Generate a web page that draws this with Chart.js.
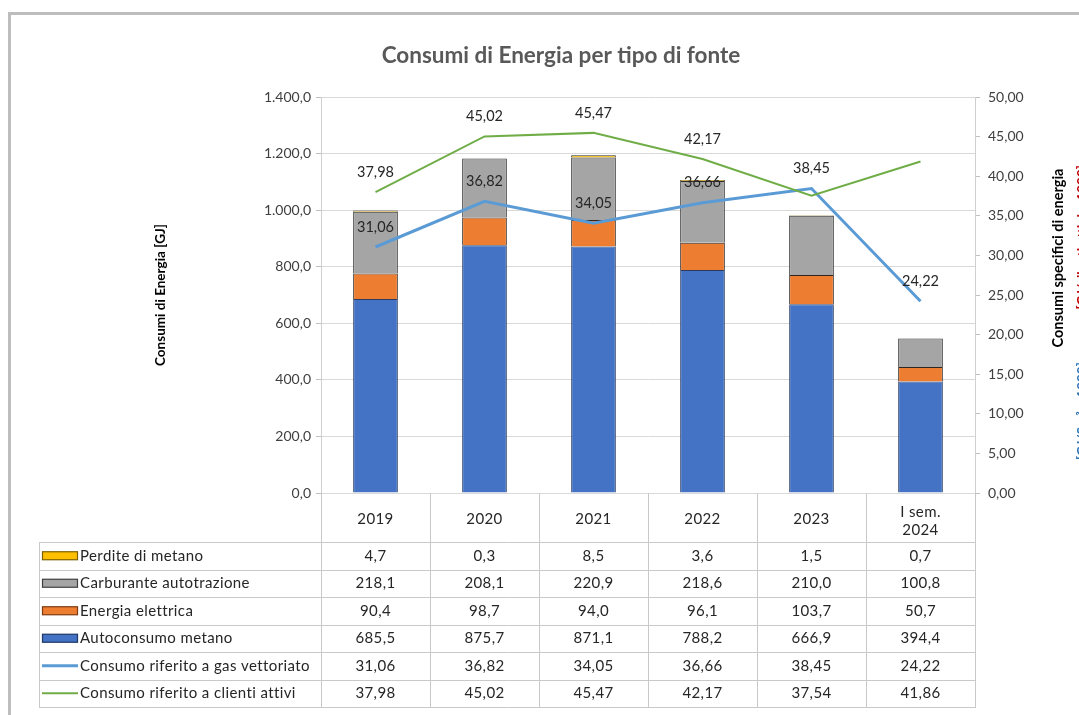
<!DOCTYPE html>
<html><head><meta charset="utf-8">
<script src="https://cdn.jsdelivr.net/npm/chart.js@4/dist/chart.umd.min.js"></script>
<style>html,body{margin:0;padding:0;background:#fff;}#wrap{position:relative;width:1079px;height:715px;}</style>
</head><body><div id="wrap"><canvas id="c" width="1079" height="715"></canvas></div>
<script>
// ---- data ----
const categories = ['2019', '2020', '2021', '2022', '2023', ['I sem.', '2024']];
const perditeMetano = [4.7, 0.3, 8.5, 3.6, 1.5, 0.7];
const carburanteAutotrazione = [218.1, 208.1, 220.9, 218.6, 210.0, 100.8];
const energiaElettrica = [90.4, 98.7, 94.0, 96.1, 103.7, 50.7];
const autoconsumoMetano = [685.5, 875.7, 871.1, 788.2, 666.9, 394.4];
const consumoGasVettoriato = [31.06, 36.82, 34.05, 36.66, 38.45, 24.22];
const consumoClientiAttivi = [37.98, 45.02, 45.47, 42.17, 37.54, 41.86];
const leftAxisRange = [0, 1400, 200];
const rightAxisRange = [0, 50, 5];
const titleText = 'Consumi di Energia per tipo di fonte';
const leftAxisTitle = 'Consumi di Energia [GJ]';
const rightAxisTitle = 'Consumi specifici di energia';

const FONT = 'Lato, "Open Sans", sans-serif';

function fmt(v, d) {
  const s = Number(v).toFixed(d);
  let [i, f] = s.split('.');
  i = i.replace(/\B(?=(\d{3})+(?!\d))/g, '.');
  return f ? i + ',' + f : i;
}

// table rows (legend order, top to bottom)
const tableRows = [
  { label: 'Perdite di metano', values: perditeMetano, dec: 1, kind: 'box', color: '#FFC000', edge: '#7F6000' },
  { label: 'Carburante autotrazione', values: carburanteAutotrazione, dec: 1, kind: 'box', color: '#A5A5A5', edge: '#404040' },
  { label: 'Energia elettrica', values: energiaElettrica, dec: 1, kind: 'box', color: '#ED7D31', edge: '#7F3A10' },
  { label: 'Autoconsumo metano', values: autoconsumoMetano, dec: 1, kind: 'box', color: '#4472C4', edge: '#1F3864' },
  { label: 'Consumo riferito a gas vettoriato', values: consumoGasVettoriato, dec: 2, kind: 'line', color: '#5B9BD5', width: 3 },
  { label: 'Consumo riferito a clienti attivi', values: consumoClientiAttivi, dec: 2, kind: 'line', color: '#70AD47', width: 2 }
];

const decorPlugin = {
  id: 'decor',
  beforeDraw(chart) {
    const ctx = chart.ctx;
    ctx.save();
    ctx.fillStyle = '#fff';
    ctx.fillRect(0, 0, chart.width, chart.height);
    ctx.fillStyle = '#BDBDBD';
    ctx.fillRect(8, 12, chart.width - 8, 3);
    ctx.fillRect(8, 12, 3, chart.height - 12);
    ctx.restore();
  },
  afterDraw(chart) {
    const ctx = chart.ctx;
    const ca = chart.chartArea;
    const xs = chart.scales.x;
    ctx.save();
    // title
    ctx.fillStyle = '#595959';
    ctx.font = 'bold 22.5px ' + FONT;
    ctx.textAlign = 'center';
    ctx.textBaseline = 'middle';
    ctx.fillText(titleText, 561, 56);

    // left axis title
    ctx.fillStyle = '#000';
    ctx.font = 'bold 13.5px ' + FONT;
    ctx.save();
    ctx.translate(161, (ca.top + ca.bottom) / 2);
    ctx.rotate(-Math.PI / 2);
    ctx.fillText(leftAxisTitle, 0, 0);
    ctx.restore();

    // right axis title (second line mostly cut by the edge)
    ctx.font = 'bold 14.5px ' + FONT;
    ctx.save();
    ctx.translate(1058, 258);
    ctx.rotate(-Math.PI / 2);
    ctx.fillText(rightAxisTitle, 0, 0);
    ctx.restore();
    ctx.save();
    ctx.font = 'bold 13.5px ' + FONT;
    ctx.translate(1083, 312);
    ctx.rotate(-Math.PI / 2);
    ctx.textAlign = 'left';
    ctx.fillStyle = '#2E75B6';
    ctx.fillText('[GJ/Sm³ x 1000]', -148, 0);
    ctx.fillStyle = '#C00000';
    ctx.textAlign = 'right';
    ctx.fillText('[GJ/clienti attivi x 1000]', 147, 0);
    ctx.restore();

    // line data labels
    const lab = chart.options.plugins.decor.labels;
    ctx.font = '14.5px ' + FONT;
    ctx.fillStyle = '#262626';
    ctx.textAlign = 'center';
    ctx.textBaseline = 'middle';
    lab.forEach(l => {
      const meta = chart.getDatasetMeta(l.dataset);
      const data = chart.data.datasets[l.dataset].data;
      meta.data.forEach((pt, i) => {
        if (!l.show[i]) return;
        ctx.fillText(fmt(data[i], 2), pt.x, pt.y - 20);
      });
    });

    // data table
    const n = categories.length;
    const colW = (ca.right - ca.left) / n;
    const headTop = ca.bottom;
    const headBottom = 542;
    const rowH = 27.5;
    const tableLeft = 39;
    const tableBottom = headBottom + rowH * tableRows.length;
    ctx.strokeStyle = '#C9C9C9';
    ctx.lineWidth = 1;
    ctx.beginPath();
    for (let i = 0; i <= n; i++) {
      const x = Math.round(ca.left + i * colW) + 0.5;
      ctx.moveTo(x, headTop);
      ctx.lineTo(x, tableBottom);
    }
    ctx.moveTo(tableLeft + 0.5, headBottom);
    ctx.lineTo(tableLeft + 0.5, tableBottom);
    for (let r = 0; r <= tableRows.length; r++) {
      const y = Math.round(headBottom + r * rowH) + 0.5;
      ctx.moveTo(tableLeft, y);
      ctx.lineTo(ca.right + 1, y);
    }
    ctx.stroke();

    ctx.font = '15px ' + FONT;
    ctx.letterSpacing = '0.4px';
    ctx.fillStyle = '#262626';
    ctx.textAlign = 'center';
    categories.forEach((c, i) => {
      const cx = xs.getPixelForValue(i);
      if (Array.isArray(c)) {
        ctx.fillText(c[0], cx, 512);
        ctx.fillText(c[1], cx, 530);
      } else {
        ctx.fillText(c, cx, 519);
      }
    });

    tableRows.forEach((row, r) => {
      const cy = headBottom + r * rowH + rowH / 2;
      if (row.kind === 'box') {
        ctx.fillStyle = row.color;
        ctx.fillRect(42, cy - 4, 36, 8);
        ctx.strokeStyle = row.edge;
        ctx.lineWidth = 1.2;
        ctx.strokeRect(42.5, cy - 4, 35, 8);
      } else {
        ctx.strokeStyle = row.color;
        ctx.lineWidth = row.width;
        ctx.beginPath();
        ctx.moveTo(42, cy);
        ctx.lineTo(78, cy);
        ctx.stroke();
      }
      ctx.fillStyle = '#262626';
      ctx.textAlign = 'left';
      ctx.fillText(row.label, 80, cy);
      ctx.textAlign = 'center';
      row.values.forEach((v, i) => {
        ctx.fillText(fmt(v, row.dec), xs.getPixelForValue(i), cy);
      });
    });
    ctx.letterSpacing = '0px';
    ctx.restore();
  }
};

const barCommon = { barPercentage: 0.41, categoryPercentage: 1, borderWidth: 1, order: 2, yAxisID: 'y', stack: 's' };

new Chart(document.getElementById('c'), {
  type: 'bar',
  data: {
    labels: categories,
    datasets: [
      Object.assign({ label: 'Autoconsumo metano', data: autoconsumoMetano, backgroundColor: '#4472C4', borderColor: '#2A3A60' }, barCommon),
      Object.assign({ label: 'Energia elettrica', data: energiaElettrica, backgroundColor: '#ED7D31', borderColor: '#2E2420' }, barCommon),
      Object.assign({ label: 'Carburante autotrazione', data: carburanteAutotrazione, backgroundColor: '#A5A5A5', borderColor: '#2E2E2E' }, barCommon),
      Object.assign({ label: 'Perdite di metano', data: perditeMetano, backgroundColor: '#FFC000', borderColor: '#2E2E2E' }, barCommon),
      { type: 'line', label: 'Consumo riferito a gas vettoriato', data: consumoGasVettoriato, yAxisID: 'y1', borderColor: '#5B9BD5', borderWidth: 3, pointRadius: 0, tension: 0, order: 1, fill: false },
      { type: 'line', label: 'Consumo riferito a clienti attivi', data: consumoClientiAttivi, yAxisID: 'y1', borderColor: '#70AD47', borderWidth: 2, pointRadius: 0, tension: 0, order: 0, fill: false }
    ]
  },
  options: {
    responsive: false,
    devicePixelRatio: 1,
    animation: false,
    events: [],
    layout: { padding: { top: 97, bottom: 222, left: 0, right: 0 } },
    plugins: {
      legend: { display: false },
      tooltip: { enabled: false },
      decor: {
        labels: [
          { dataset: 4, show: [true, true, true, true, true, true] },
          { dataset: 5, show: [true, true, true, true, false, false] }
        ]
      }
    },
    scales: {
      x: { display: false, stacked: true, offset: true },
      y: {
        position: 'left', stacked: true,
        min: leftAxisRange[0], max: leftAxisRange[1],
        ticks: { stepSize: leftAxisRange[2], callback: v => fmt(v, 1), color: '#404040', font: { family: FONT, size: 14 }, padding: 5 },
        grid: { color: '#D9D9D9', tickColor: '#BFBFBF', tickLength: 5 },
        border: { display: true, color: '#D0D0D0' },
        afterFit: s => { s.width = 321; }
      },
      y1: {
        position: 'right', stacked: false,
        min: rightAxisRange[0], max: rightAxisRange[1],
        ticks: { stepSize: rightAxisRange[2], callback: v => fmt(v, 2), color: '#404040', font: { family: FONT, size: 14 }, padding: 8 },
        grid: { drawOnChartArea: false, tickColor: '#BFBFBF', tickLength: 5 },
        border: { display: true, color: '#D0D0D0' },
        afterFit: s => { s.width = 104; }
      }
    }
  },
  plugins: [decorPlugin]
});
</script></body></html>
